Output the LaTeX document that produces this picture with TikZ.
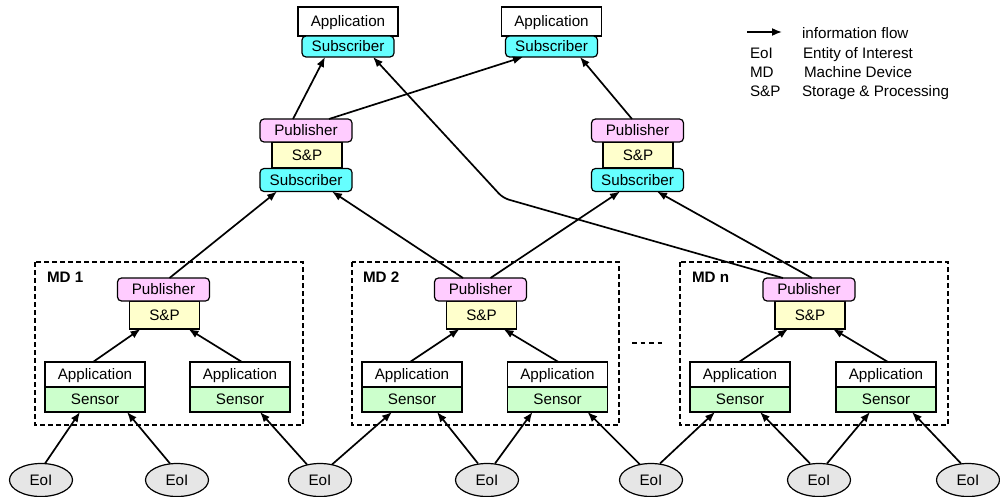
\documentclass[tikz,border=0pt]{standalone}
\usepackage{fontspec}
\setmainfont{Liberation Sans}
\usetikzlibrary{arrows.meta,calc,shapes.geometric}
\definecolor{subc}{HTML}{66FFFF}
\definecolor{pubc}{HTML}{FFCCFF}
\definecolor{spc}{HTML}{FFFFCC}
\definecolor{senc}{HTML}{CCFFCC}
\definecolor{eoic}{HTML}{E6E6E6}
\begin{document}
\begin{tikzpicture}[x=1pt,y=-1pt,
  every node/.style={font=\fontsize{15.2}{18}\selectfont, inner sep=0pt, outer sep=0pt, text height=10.9pt, text depth=0pt},
  box/.style={draw, line width=1.2pt, rectangle},
  appbox/.style={box, fill=white, minimum width=100pt, minimum height=25pt},
  topapp/.style={box, fill=white, minimum width=100pt, minimum height=29pt},
  sensbox/.style={box, fill=senc, minimum width=100pt, minimum height=25pt},
  pubbox/.style={box, fill=pubc, rounded corners=4pt, minimum width=92pt, minimum height=23pt},
  subbox/.style={box, fill=subc, rounded corners=4pt, minimum width=92pt, minimum height=23pt},
  topsub/.style={box, fill=subc, rounded corners=4pt, minimum width=92pt, minimum height=21pt},
  spbox/.style={box, fill=spc, minimum width=70pt, minimum height=26pt},
  mdsp/.style={box, fill=spc, minimum width=70pt, minimum height=28pt},
  eoi/.style={draw, line width=1.2pt, ellipse, fill=eoic, minimum width=63pt, minimum height=33pt},
  mdbox/.style={draw, line width=1.3pt, dash pattern=on 5pt off 3pt},
  flow/.style={line width=1.7pt, -{Latex[length=10pt,width=8pt]}},
  mdlabel/.style={font=\fontsize{15.2}{18}\selectfont\bfseries, anchor=base west},
  legend/.style={anchor=base west},
]
\useasboundingbox (0,0) rectangle (1000,497);

% MD frames
\draw[mdbox] (35,262) rectangle (303,425);
\draw[mdbox] (352,262) rectangle (619,425);
\draw[mdbox] (680,262) rectangle (948,425);
\draw[line width=1.3pt, dash pattern=on 4.5pt off 4pt] (632,343) -- (662,343);

\node[mdlabel] (md1) at (47,282.5) {MD 1};
\node[mdlabel] (md2) at (363,282.5) {MD 2};
\node[mdlabel] (mdn) at (692,282.5) {MD n};

% top applications
\node[topapp] (appT1) at (348,21.5) {Application};
\node[topsub] (subT1) at (348,46.5) {Subscriber};
\node[topapp] (appT2) at (551.5,21.5) {Application};
\node[topsub] (subT2) at (551.5,46.5) {Subscriber};

% middle brokers
\node[spbox] (spL) at (307,155) {S\&P};
\node[pubbox] (pubL) at (306,130.5) {Publisher};
\node[subbox] (subL) at (306,180) {Subscriber};
\node[spbox] (spR) at (638,155) {S\&P};
\node[pubbox] (pubR) at (637.5,130.5) {Publisher};
\node[subbox] (subR) at (637.5,180) {Subscriber};

% MD 1
\node[mdsp] (sp1) at (164.5,315) {S\&P};
\node[pubbox] (pub1) at (163.5,289.5) {Publisher};
\node[appbox] (app1l) at (95,374.5) {Application};
\node[sensbox] (sen1l) at (95,399.5) {Sensor};
\node[appbox] (app1r) at (240,374.5) {Application};
\node[sensbox] (sen1r) at (240,399.5) {Sensor};

% MD 2
\node[mdsp] (sp2) at (481.5,315) {S\&P};
\node[pubbox] (pub2) at (480.5,289.5) {Publisher};
\node[appbox] (app2l) at (412,374.5) {Application};
\node[sensbox] (sen2l) at (412,399.5) {Sensor};
\node[appbox] (app2r) at (557.5,374.5) {Application};
\node[sensbox] (sen2r) at (557.5,399.5) {Sensor};

% MD n
\node[mdsp] (spn) at (810,315) {S\&P};
\node[pubbox] (pubn) at (809,289.5) {Publisher};
\node[appbox] (appnl) at (740,374.5) {Application};
\node[sensbox] (sennl) at (740,399.5) {Sensor};
\node[appbox] (appnr) at (886,374.5) {Application};
\node[sensbox] (sennr) at (886,399.5) {Sensor};

% Entities of interest
\node[eoi] (e1) at (41,480) {EoI};
\node[eoi] (e2) at (177,480) {EoI};
\node[eoi] (e3) at (320,480) {EoI};
\node[eoi] (e4) at (487,480) {EoI};
\node[eoi] (e5) at (651,480) {EoI};
\node[eoi] (e6) at (819,480) {EoI};
\node[eoi] (e7) at (968,480) {EoI};

% EoI -> sensors
\draw[flow] ($(e1.north)+(4,0)$) -- ($(sen1l.south)+(-15,0)$);
\draw[flow] ($(e2.north)+(-7,0)$) -- ($(sen1l.south)+(32,0)$);
\draw[flow] ($(e3.north)+(-13,1)$) -- ($(sen1r.south)+(20,0)$);
\draw[flow] ($(e3.north)+(12,1)$) -- ($(sen2l.south)+(-20,0)$);
\draw[flow] ($(e4.north)+(-9,0)$) -- ($(sen2l.south)+(25,0)$);
\draw[flow] ($(e4.north)+(8,0)$) -- ($(sen2r.south)+(-25,0)$);
\draw[flow] ($(e5.north)+(-11,1)$) -- ($(sen2r.south)+(30,0)$);
\draw[flow] ($(e5.north)+(9,0)$) -- ($(sennl.south)+(-25,0)$);
\draw[flow] ($(e6.north)+(-9,0)$) -- ($(sennl.south)+(20,0)$);
\draw[flow] ($(e6.north)+(8,0)$) -- ($(sennr.south)+(-16,0)$);
\draw[flow] ($(e7.north)+(-7,0)$) -- ($(sennr.south)+(26,0)$);

% applications -> S&P
\draw[flow] ($(app1l.north)+(-2,0)$) -- ($(sp1.south)+(-24,0)$);
\draw[flow] ($(app1r.north)+(2,0)$) -- ($(sp1.south)+(24,0)$);
\draw[flow] ($(app2l.north)+(-2,0)$) -- ($(sp2.south)+(-22,0)$);
\draw[flow] ($(app2r.north)+(1,0)$) -- ($(sp2.south)+(22,0)$);
\draw[flow] ($(appnl.north)+(-1,0)$) -- ($(spn.south)+(-22,0)$);
\draw[flow] ($(appnr.north)+(2,0)$) -- ($(spn.south)+(23,0)$);

% publishers -> subscribers
\draw[flow] ($(pub1.north)+(6,0)$) -- ($(subL.south)+(-29,0)$);
\draw[flow] ($(pub2.north)+(-17.5,0)$) -- ($(subL.south)+(26,0)$);
\draw[flow] ($(pub2.north)+(10,0)$) -- ($(subR.south)+(-17.5,0)$);
\draw[flow] ($(pubn.north)+(3,0)$) -- ($(subR.south)+(19.5,0)$);
\coordinate (bend) at (503,198);
\draw[flow, rounded corners=6pt] ($(pubn.north)+(-26,0)$) -- (bend) -- ($(subT1.south)+(25,0)$);
\draw[flow] ($(pubL.north)+(-13,0)$) -- ($(subT1.south)+(-23,0)$);
\draw[flow] ($(pubL.north)+(23,0)$) -- ($(subT2.south)+(-28.5,0)$);
\draw[flow] ($(pubR.north)+(-5.5,0)$) -- ($(subT2.south)+(28.5,0)$);

% legend
\coordinate (la) at (747,32);
\coordinate (lb) at (782,32);
\draw[flow] (la) -- (lb);
\node[legend] (l1) at (802,38.5) {information flow};
\node[legend] (k2) at (750,58.5) {EoI};
\node[legend] (l2) at (803,58.5) {Entity of Interest};
\node[legend] (k3) at (750,77.5) {MD};
\node[legend] (l3) at (804,77.5) {Machine Device};
\node[legend] (k4) at (750,96.5) {S\&P};
\node[legend] (l4) at (802,96.5) {Storage \& Processing};
\end{tikzpicture}
\end{document}
